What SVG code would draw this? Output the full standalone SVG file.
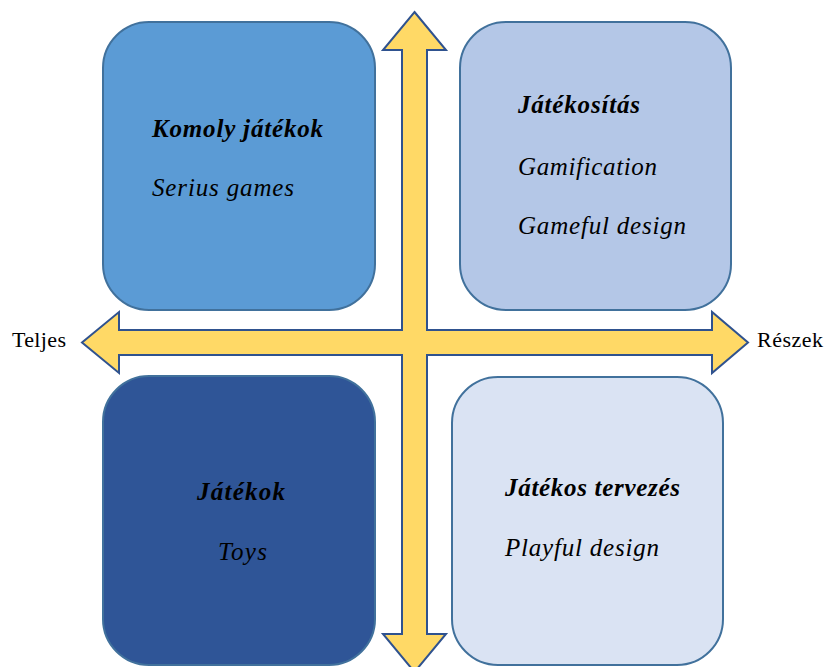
<svg xmlns="http://www.w3.org/2000/svg" width="825" height="667" viewBox="0 0 825 667">
  <style>
    .box { stroke: #41719C; stroke-width: 2; }
    .title { font-family: "Liberation Serif", "Times New Roman", serif; font-style: italic; font-weight: bold; font-size: 25px; fill: #000; }
    .sub { font-family: "Liberation Serif", "Times New Roman", serif; font-style: italic; font-size: 25px; fill: #000; }
    .axis { font-family: "Liberation Serif", "Times New Roman", serif; font-size: 22px; fill: #000; }
  </style>
  <rect width="825" height="667" fill="#ffffff"/>

  <!-- quadrant boxes -->
  <g id="komoly">
    <rect class="box" x="103" y="22" width="272" height="288" rx="46" fill="#5B9BD5"/>
    <text class="title" x="152" y="137" textLength="171" lengthAdjust="spacing">Komoly játékok</text>
    <text class="sub" x="152" y="196" textLength="142" lengthAdjust="spacing">Serius games</text>
  </g>
  <g id="jatekositas">
    <rect class="box" x="460" y="22" width="271" height="288" rx="46" fill="#B4C7E7"/>
    <text class="title" x="518" y="113" textLength="122" lengthAdjust="spacing">Játékosítás</text>
    <text class="sub" x="518" y="175" textLength="139" lengthAdjust="spacing">Gamification</text>
    <text class="sub" x="518" y="234" textLength="168" lengthAdjust="spacing">Gameful design</text>
  </g>
  <g id="jatekok">
    <rect class="box" x="103" y="376" width="272" height="289" rx="46" fill="#2F5597"/>
    <text class="title" x="197" y="500" textLength="88" lengthAdjust="spacing">Játékok</text>
    <text class="sub" x="218" y="560" textLength="49" lengthAdjust="spacing">Toys</text>
  </g>
  <g id="jatekos-tervezes">
    <rect class="box" x="452" y="377" width="271" height="288" rx="46" fill="#DAE3F3"/>
    <text class="title" x="505" y="496" textLength="175" lengthAdjust="spacing">Játékos tervezés</text>
    <text class="sub" x="505" y="556" textLength="154" lengthAdjust="spacing">Playful design</text>
  </g>

  <!-- axes: one four-headed cross arrow -->
  <g id="connectors">
    <polygon fill="#FFD966" stroke="#2F528F" stroke-width="2" stroke-linejoin="miter"
      points="414.5,12 446,50 427,50 427,330 712,330 712,312 748,342.5 712,373 712,355 427,355 427,634 446,634 414.5,672 383,634 402,634 402,355 119,355 119,373 82,342.5 119,312 119,330 402,330 402,50 383,50"/>
  </g>

  <g id="axis-labels">
    <text class="axis" x="12" y="347" textLength="54" lengthAdjust="spacing">Teljes</text>
    <text class="axis" x="757" y="347" textLength="66" lengthAdjust="spacing">Részek</text>
  </g>
</svg>
